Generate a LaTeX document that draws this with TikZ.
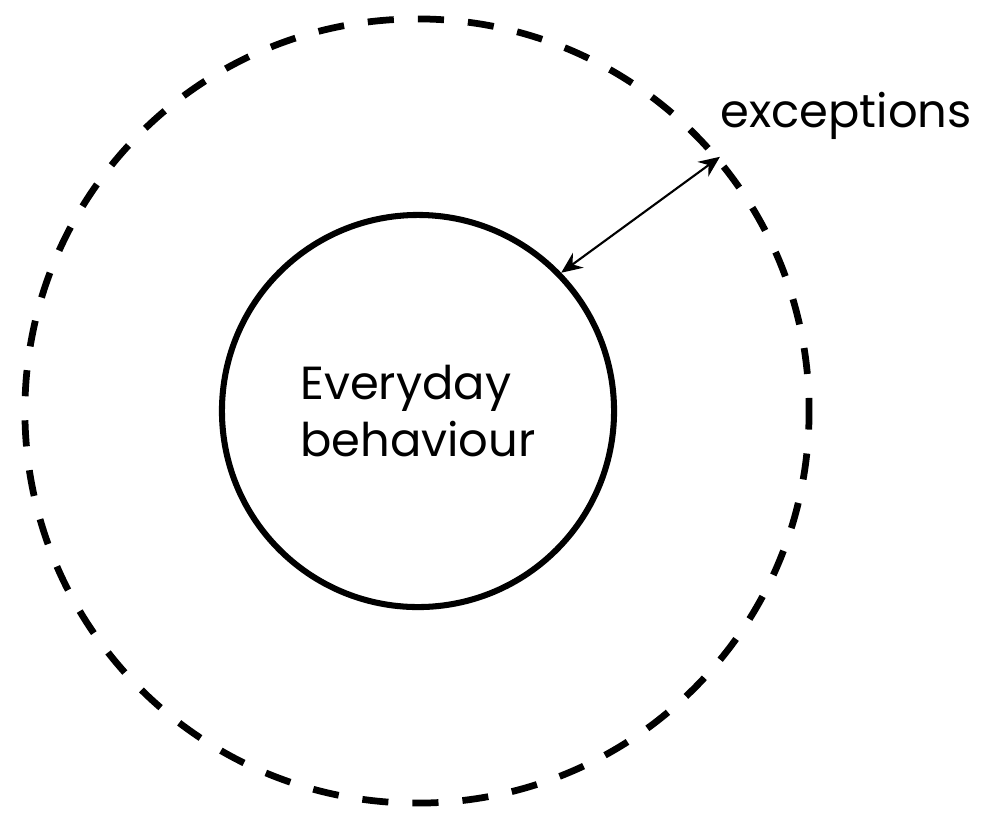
\documentclass[tikz,border=0pt]{standalone}
\usepackage{fontspec}
\setmainfont{Poppins}
\usetikzlibrary{arrows.meta}

\tikzset{
  ring/.style={circle, draw, line width=4.3pt, inner sep=0pt},
  dashring/.style={ring, line width=4.8pt, dash pattern=on 18.6pt off 17.08pt, dash phase=9.3pt},
  label/.style={font=\fontsize{33}{40}\selectfont, align=left},
  >={Stealth[length=15pt,width=13pt,inset=5pt]},
}

\begin{document}
\begin{tikzpicture}[x=0.025cm,y=-0.025cm]
    \useasboundingbox (0,0) rectangle (985,812);

    % draw circles
    \node[dashring, minimum size=19.6cm] (outer) at (417,411) {};
    \node[ring, minimum size=9.8cm, label] (everyday) at (418,411) {Everyday\\behaviour};

    % label and arrow
    \node[label] (exc) at (846,116) {exceptions};
    \draw[line width=1.5pt, <->] (everyday.44) -- (outer.40);

\end{tikzpicture}
\end{document}
